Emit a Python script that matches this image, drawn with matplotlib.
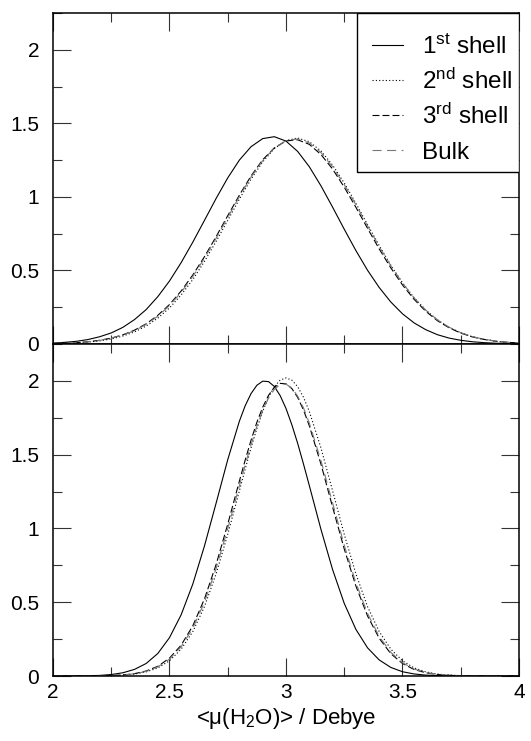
import numpy as np
import matplotlib
matplotlib.use("Agg")
import matplotlib.pyplot as plt
from matplotlib.patches import Rectangle
from matplotlib.ticker import MultipleLocator

plt.rcParams['font.family'] = ['Liberation Sans', 'DejaVu Sans']
plt.rcParams['mathtext.fontset'] = 'custom'
plt.rcParams['mathtext.rm'] = 'Liberation Sans'
plt.rcParams['mathtext.default'] = 'regular'
plt.rcParams['lines.scale_dashes'] = False

# dipole moment grid (Debye)
dipole_top = [2.00, 2.05, 2.10, 2.15, 2.20, 2.25, 2.30, 2.35, 2.40, 2.45,
              2.50, 2.55, 2.60, 2.65, 2.70, 2.75, 2.80, 2.85, 2.90, 2.95,
              3.00, 3.05, 3.10, 3.15, 3.20, 3.25, 3.30, 3.35, 3.40, 3.45,
              3.50, 3.55, 3.60, 3.65, 3.70, 3.75, 3.80, 3.85, 3.90, 3.95, 4.00]

# upper panel
top_shell1 = [0.006, 0.011, 0.018, 0.030, 0.049, 0.075, 0.113, 0.166, 0.234, 0.322,
              0.428, 0.553, 0.692, 0.840, 0.989, 1.129, 1.250, 1.341, 1.396, 1.409,
              1.379, 1.309, 1.205, 1.075, 0.930, 0.780, 0.635, 0.501, 0.384, 0.285,
              0.205, 0.143, 0.097, 0.063, 0.040, 0.025, 0.015, 0.009, 0.005, 0.003, 0.001]
top_shell2 = [0.002, 0.004, 0.007, 0.013, 0.021, 0.034, 0.054, 0.082, 0.122, 0.176,
              0.245, 0.333, 0.438, 0.561, 0.697, 0.840, 0.985, 1.120, 1.238, 1.328,
              1.383, 1.400, 1.375, 1.312, 1.216, 1.094, 0.956, 0.811, 0.669, 0.535,
              0.416, 0.314, 0.230, 0.164, 0.113, 0.076, 0.049, 0.031, 0.019, 0.011, 0.007]
top_shell3 = [0.003, 0.005, 0.009, 0.015, 0.025, 0.040, 0.062, 0.094, 0.137, 0.195,
              0.268, 0.360, 0.469, 0.593, 0.729, 0.872, 1.012, 1.142, 1.252, 1.333,
              1.380, 1.388, 1.357, 1.288, 1.189, 1.066, 0.929, 0.786, 0.646, 0.517,
              0.401, 0.303, 0.222, 0.158, 0.110, 0.074, 0.048, 0.031, 0.019, 0.011, 0.007]
top_bulk = [0.003, 0.005, 0.009, 0.015, 0.024, 0.039, 0.060, 0.091, 0.133, 0.189,
            0.261, 0.351, 0.459, 0.582, 0.718, 0.860, 1.002, 1.134, 1.246, 1.332,
            1.382, 1.394, 1.366, 1.301, 1.204, 1.083, 0.946, 0.803, 0.662, 0.531,
            0.414, 0.313, 0.230, 0.164, 0.114, 0.077, 0.050, 0.032, 0.020, 0.012, 0.007]

# lower panel (denser around the peaks)
dipole_bot = [2.00, 2.05, 2.10, 2.15, 2.20, 2.25, 2.30, 2.35, 2.40, 2.45,
              2.50, 2.55, 2.60, 2.65, 2.70, 2.75, 2.80, 2.825, 2.85, 2.875,
              2.90, 2.925, 2.95, 2.975, 3.00, 3.025, 3.05, 3.075, 3.10, 3.15,
              3.20, 3.25, 3.30, 3.35, 3.40, 3.45, 3.50, 3.55, 3.60, 3.65,
              3.70, 3.75, 3.80, 3.85, 3.90, 3.95, 4.00]
bot_shell1 = [0.000, 0.000, 0.001, 0.002, 0.004, 0.010, 0.022, 0.045, 0.085, 0.153,
              0.260, 0.415, 0.623, 0.881, 1.171, 1.466, 1.727, 1.832, 1.914, 1.970,
              1.998, 1.995, 1.962, 1.900, 1.813, 1.703, 1.577, 1.437, 1.291, 0.994,
              0.721, 0.492, 0.316, 0.191, 0.109, 0.058, 0.029, 0.014, 0.006, 0.003,
              0.001, 0.000, 0.000, 0.000, 0.000, 0.000, 0.000]
bot_shell2 = [0.000, 0.000, 0.000, 0.000, 0.001, 0.003, 0.006, 0.013, 0.028, 0.055,
              0.103, 0.182, 0.301, 0.470, 0.692, 0.960, 1.255, 1.403, 1.546, 1.677,
              1.793, 1.889, 1.961, 2.005, 2.020, 2.005, 1.961, 1.889, 1.793, 1.546,
              1.255, 0.960, 0.692, 0.470, 0.301, 0.182, 0.103, 0.055, 0.028, 0.013,
              0.006, 0.003, 0.001, 0.000, 0.000, 0.000, 0.000]
bot_shell3 = [0.000, 0.000, 0.000, 0.000, 0.001, 0.003, 0.007, 0.016, 0.034, 0.066,
              0.121, 0.209, 0.340, 0.522, 0.755, 1.029, 1.321, 1.464, 1.598, 1.719,
              1.821, 1.902, 1.956, 1.983, 1.980, 1.948, 1.888, 1.803, 1.696, 1.436,
              1.145, 0.861, 0.610, 0.407, 0.256, 0.151, 0.085, 0.044, 0.022, 0.010,
              0.005, 0.002, 0.001, 0.000, 0.000, 0.000, 0.000]
bot_bulk = [0.000, 0.000, 0.000, 0.000, 0.001, 0.003, 0.007, 0.015, 0.031, 0.062,
            0.114, 0.198, 0.324, 0.500, 0.728, 0.998, 1.289, 1.432, 1.568, 1.692,
            1.798, 1.883, 1.943, 1.975, 1.978, 1.951, 1.897, 1.817, 1.714, 1.460,
            1.172, 0.886, 0.631, 0.424, 0.268, 0.160, 0.090, 0.047, 0.024, 0.011,
            0.005, 0.002, 0.001, 0.000, 0.000, 0.000, 0.000]

labels = ['1$^{st}$ shell', '2$^{nd}$ shell', '3$^{rd}$ shell', 'Bulk']
styles = [dict(color='black', linestyle='-'),
          dict(color='black', linestyle=(0, (0.8, 1.6))),
          dict(color='black', linestyle=(0, (5, 2.2))),
          dict(color='#777777', linestyle=(0, (6.5, 4)))]

xticks = [2, 2.5, 3, 3.5, 4]
xticklabels = ['2', '2.5', '3', '3.5', '4']
yticks = [0, 0.5, 1, 1.5, 2]
yticklabels = ['0', '0.5', '1', '1.5', '2']

fig = plt.figure(figsize=(5.31, 7.41), dpi=100)
ax_top = fig.add_axes([0.0998, 0.5358, 0.8776, 0.4467])
ax_bot = fig.add_axes([0.0998, 0.0877, 0.8776, 0.4481])

panels = [(ax_top, dipole_top, [top_shell1, top_shell2, top_shell3, top_bulk]),
          (ax_bot, dipole_bot, [bot_shell1, bot_shell2, bot_shell3, bot_bulk])]

for ax, xs, series in panels:
    for ys, st in zip(series, styles):
        ax.plot(xs, ys, lw=0.8, **st)
    ax.set_xlim(2, 4)
    ax.set_ylim(0, 2.25)
    ax.set_xticks(xticks)
    ax.set_yticks(yticks)
    ax.set_yticklabels(yticklabels)
    ax.xaxis.set_minor_locator(MultipleLocator(0.25))
    ax.yaxis.set_minor_locator(MultipleLocator(0.25))
    ax.tick_params(which='both', direction='in', top=True, right=True,
                   width=0.8, color='#333333', labelsize=15)
    ax.tick_params(which='major', length=13)
    ax.tick_params(which='minor', length=6.5)
    ax.tick_params(axis='y', pad=10)
    ax.tick_params(axis='x', pad=5)
    for sp in ax.spines.values():
        sp.set_linewidth(1.1)

ax_top.set_xticklabels([])
ax_bot.set_xticklabels(xticklabels)
ax_bot.set_xlabel('<μ(H$_2$O)> / Debye', fontsize=16, labelpad=3)

# legend box drawn by hand so the rows sit where the original has them
box = Rectangle((0.652, 0.52), 0.348, 0.48, transform=ax_top.transAxes,
                facecolor='white', edgecolor='black', lw=1.0, zorder=5)
ax_top.add_patch(box)
row_y = [0.903, 0.798, 0.692, 0.586]
for yy, lab, st in zip(row_y, labels, styles):
    ax_top.plot([0.6845, 0.7511], [yy, yy], transform=ax_top.transAxes,
                lw=0.8, zorder=6, **st)
    ax_top.text(0.792, yy - 0.027, lab, transform=ax_top.transAxes,
                fontsize=17.5, va='baseline', ha='left', zorder=6)

fig.savefig('out.png', dpi=100)
